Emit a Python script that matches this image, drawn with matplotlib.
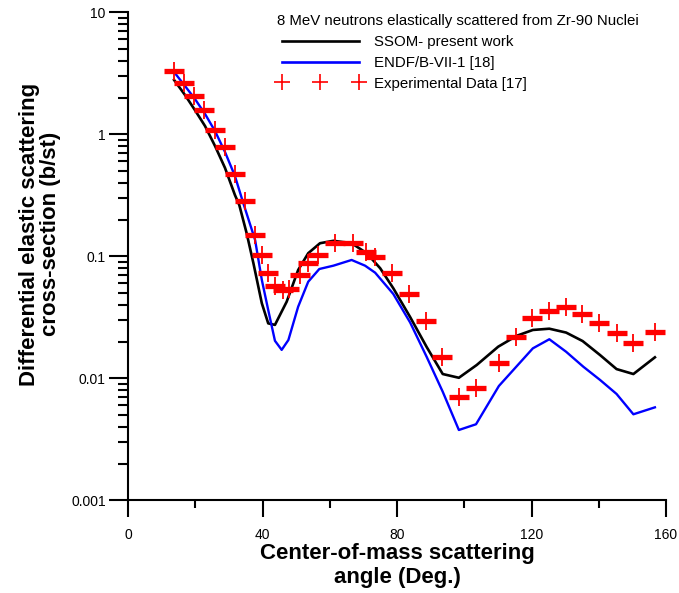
import matplotlib
matplotlib.use("Agg")
import matplotlib.pyplot as plt
from matplotlib.lines import Line2D
from matplotlib.ticker import FixedLocator, LogLocator, NullFormatter

plt.rcParams['font.family'] = ['Liberation Sans', 'DejaVu Sans']

# Experimental data [17]
exp_angle = [13.7, 16.7, 19.6, 22.7, 25.9, 28.8, 31.8, 34.7, 37.8, 39.8, 41.7, 43.7,
             46.2, 48.0, 51.3, 53.6, 56.6, 61.6, 66.8, 70.7, 73.5, 78.4, 83.5, 88.6,
             93.5, 98.4, 103.4, 110.3, 115.4, 120.2, 125.3, 130.2, 135.1, 140.1,
             145.3, 150.3, 156.7]
exp_xs = [3.30, 2.62, 2.06, 1.57, 1.08, 0.78, 0.473, 0.282, 0.150, 0.1025, 0.0734, 0.0576,
          0.0529, 0.0537, 0.0703, 0.0877, 0.1025, 0.129, 0.128, 0.108, 0.098, 0.0734, 0.0488,
          0.0297, 0.0149, 0.00707, 0.00838, 0.0133, 0.0217, 0.0310, 0.0356, 0.0382, 0.0337,
          0.0282, 0.0234, 0.0194, 0.0241]

# SSOM - present work
ssom_angle = [13.7, 16.95, 19.9, 22.9, 25.9, 28.85, 31.8, 33.1, 35.3, 37.3, 39.8, 41.7,
              43.7, 47.2, 50.6, 53.6, 57.1, 61.1, 66.5, 71.0, 75.0, 78.9, 83.9, 88.8,
              93.6, 98.4, 103.7, 110.1, 115.6, 120.4, 125.3, 130.3, 135.2, 140.4,
              145.3, 150.3, 156.7]
ssom_xs = [2.79, 2.10, 1.58, 1.17, 0.80, 0.530, 0.318, 0.263, 0.154, 0.0877, 0.0412, 0.0282,
           0.0274, 0.0425, 0.0772, 0.106, 0.128, 0.134, 0.128, 0.106, 0.0798, 0.0547, 0.0318,
           0.0181, 0.01084, 0.0101, 0.01285, 0.01816, 0.0223, 0.0249, 0.0255, 0.0237, 0.0202,
           0.0155, 0.0119, 0.01084, 0.01486]

# ENDF/B-VII-1 [18]
endf_angle = [13.7, 16.95, 19.9, 22.9, 25.9, 28.85, 31.8, 34.3, 37.8, 39.8, 41.7, 43.7,
              45.7, 47.7, 50.6, 53.6, 56.9, 61.1, 66.5, 70.5, 73.5, 78.9, 83.9, 88.8,
              93.6, 98.4, 103.5, 110.3, 120.4, 125.3, 130.3, 135.4, 140.4, 145.3,
              150.3, 156.7]
endf_xs = [3.24, 2.49, 1.95, 1.47, 1.06, 0.716, 0.455, 0.272, 0.136, 0.064, 0.0363, 0.0203,
           0.0171, 0.0206, 0.0386, 0.0619, 0.0787, 0.0838, 0.0933, 0.0838, 0.0734, 0.0491,
           0.0287, 0.01503, 0.00776, 0.00377, 0.0042, 0.00865, 0.0176, 0.0209, 0.0165,
           0.01245, 0.00969, 0.00744, 0.00507, 0.00578]

x_major = [0, 40, 80, 120, 160]
x_minor = [20, 60, 100, 140]
y_major = [0.001, 0.01, 0.1, 1, 10]
y_labels = ['0.001', '0.01', '0.1', '1', '10']

fig = plt.figure(figsize=(6.79, 5.93), dpi=100)
W, H = 679, 593
ax = fig.add_axes([128 / W, (593 - 500.3) / H, (666 - 128) / W, (500.3 - 12.3) / H])

ax.plot(ssom_angle, ssom_xs, color='black', lw=1.9, zorder=3)
ax.plot(endf_angle, endf_xs, color='#0000ff', lw=1.7, zorder=3)
ax.plot(exp_angle, exp_xs, ls='none', marker='_', ms=14.5, mew=3.8, color='#ff0000', zorder=4)
ax.plot(exp_angle, exp_xs, ls='none', marker='+', ms=12.5, mew=1.3, color='#ff0000', zorder=4)

ax.set_yscale('log')
ax.set_xlim(0, 160)
ax.set_ylim(0.001, 10)

for s in ['top', 'right']:
    ax.spines[s].set_visible(False)
for s in ['left', 'bottom']:
    ax.spines[s].set_linewidth(1.5)

ax.xaxis.set_major_locator(FixedLocator(x_major))
ax.xaxis.set_minor_locator(FixedLocator(x_minor))
ax.set_xticklabels([str(v) for v in x_major])
ax.yaxis.set_major_locator(FixedLocator(y_major))
ax.set_yticklabels(y_labels)
ax.yaxis.set_minor_locator(LogLocator(base=10, subs=range(2, 10)))
ax.yaxis.set_minor_formatter(NullFormatter())

ax.tick_params(axis='x', which='major', direction='out', length=12, width=1.5, pad=8, labelsize=10)
ax.tick_params(axis='x', which='minor', direction='out', length=6, width=1.5)
ax.tick_params(axis='y', which='major', direction='out', length=14, width=1.5, pad=2, labelsize=10)
ax.tick_params(axis='y', which='minor', direction='out', length=7, width=1.5)

ax.set_xlabel('Center-of-mass scattering\nangle (Deg.)', fontsize=16, fontweight='bold',
              linespacing=1.15, labelpad=1)
ax.set_ylabel('Differential elastic scattering\ncross-section (b/st)', fontsize=16,
              fontweight='bold', linespacing=1.0)
ax.yaxis.set_label_coords(-0.125, 0.545)

handles = [
    Line2D([], [], color='black', lw=1.9),
    Line2D([], [], color='#0000ff', lw=1.9),
    Line2D([], [], ls='none', marker='+', ms=11, mew=1.2, color='#ff0000'),
]
labels = ['SSOM- present work', 'ENDF/B-VII-1 [18]', 'Experimental Data [17]']
leg = ax.legend(handles, labels, title='8 MeV neutrons elastically scattered from Zr-90 Nuclei',
                loc='upper left', bbox_to_anchor=(277 / W, 1 - 14 / H),
                bbox_transform=fig.transFigure, frameon=False, fontsize=10.8,
                title_fontsize=10.8, handlelength=5.75, handletextpad=0.75, numpoints=3,
                labelspacing=0.46, borderpad=0, borderaxespad=0, alignment='left')

fig.savefig('out.png', dpi=100)
